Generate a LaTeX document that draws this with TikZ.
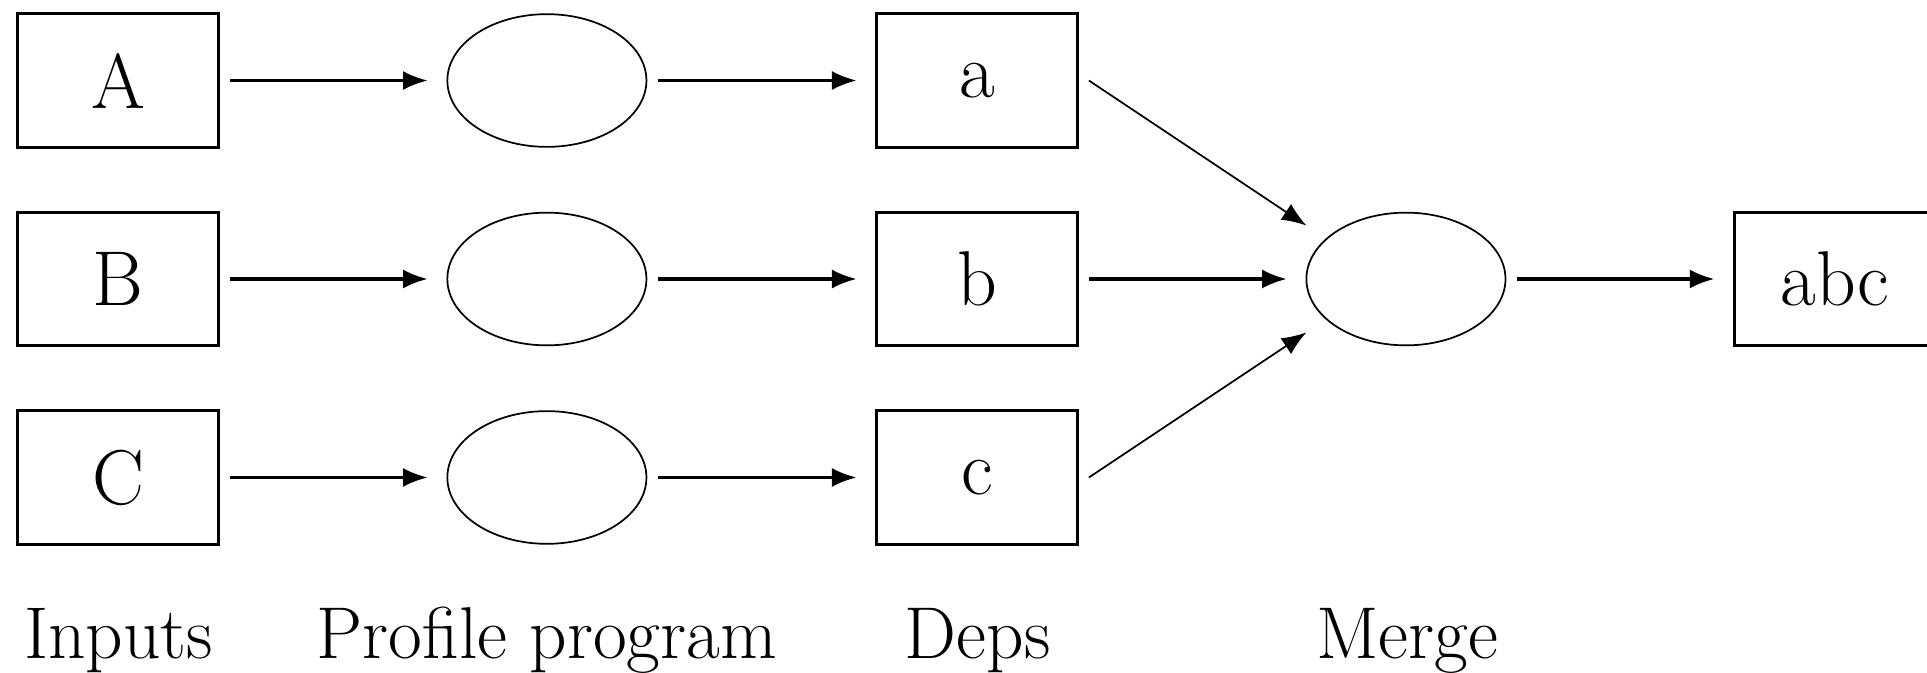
\documentclass[tikz,border=0pt]{standalone}
\usepackage{amsmath}
\usepackage{tikz}
\usetikzlibrary{arrows.meta,shapes.geometric}

\begin{document}
\begin{tikzpicture}[shorten >=1.6mm, shorten <=0.9mm, ->, >={Latex[length=5.7pt,width=4.4pt]}]
    \tikzstyle{box}=[draw, rectangle, line width=0.7pt, minimum width=1.64cm, minimum height=1.09cm, inner sep=0pt, outer sep=0pt, font=\fontsize{18}{21}\selectfont]
    \tikzstyle{prog}=[draw, ellipse, line width=0.4pt, minimum width=1.62cm, minimum height=1.08cm, inner sep=0pt, outer sep=0pt]
    \tikzstyle{annot}=[anchor=base, font=\fontsize{17}{20}\selectfont]
    \tikzstyle{flow}=[line width=0.7pt]
    \tikzstyle{fan edge}=[line width=0.4pt, shorten <=0pt, shorten >=0pt]
    \def\rowsep{1.615}

    \useasboundingbox (0,0) rectangle (15.68,-5.47);

    % Draw the input boxes, the profile programs and the deps
    \foreach \name / \dep / \y in {A/a/1,B/b/2,C/c/3} {
        \node[box] (I-\y) at (0.96,{-0.655-(\y-1)*\rowsep}) {\name};
        \node[prog] (P-\y) at (4.45,{-0.655-(\y-1)*\rowsep}) {};
        \node[box] (D-\y) at (7.95,{-0.655-(\y-1)*\rowsep}) {\dep};
        \draw[flow] (I-\y) -- (P-\y);
        \draw[flow] (P-\y) -- (D-\y);
    }

    % Draw the merge node and the result
    \node[prog] (M) at (11.44,-2.27) {};
    \node[box] (R) at (14.93,-2.27) {abc};

    % Connect every dep with the merge node
    \draw[fan edge] ([xshift=0.9mm]D-1.east) -- ([yshift=4.35mm]M.west);
    \draw[flow] (D-2) -- (M);
    \draw[fan edge] ([xshift=0.9mm]D-3.east) -- ([yshift=-4.35mm]M.west);
    \draw[flow] (M) -- (R);

    % Annotate the columns
    \node[annot] (l-in) at (0.965,-5.36) {Inputs};
    \node[annot] (l-prog) at (4.45,-5.36) {Profile program};
    \node[annot] (l-dep) at (7.955,-5.36) {Deps};
    \node[annot] (l-merge) at (11.45,-5.36) {Merge};

\end{tikzpicture}
\end{document}
